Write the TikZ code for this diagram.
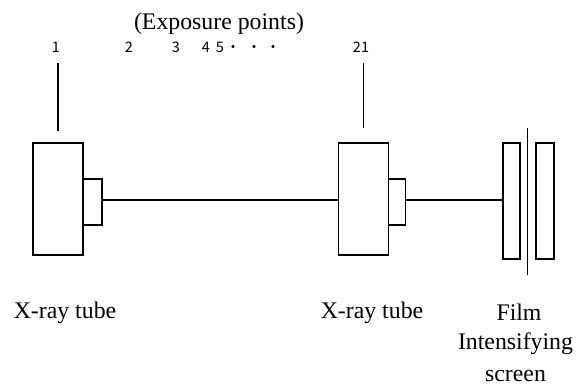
\documentclass[tikz,border=0pt]{standalone}
\usepackage{fontspec}
\setmainfont{Liberation Serif}
\newfontfamily\gothicfont{Noto Sans CJK JP}
\usepackage{tikz}
\usetikzlibrary{positioning, calc}

\begin{document}
\begin{tikzpicture}[x=1pt, y=-1pt,
    box/.style={draw, line width=1.2pt, inner sep=0pt, outer sep=0pt},
    wire/.style={line width=1.2pt},
    caption/.style={font=\fontsize{23.8}{32}\selectfont, align=center, inner sep=0pt},
    point/.style={font=\gothicfont\fontsize{14.5}{16}\selectfont, inner sep=0pt}
]
    \useasboundingbox (0,0) rectangle (588,385);

    % Exposure points
    \node[caption] (title) at (219,24) {(Exposure points)};
    \node[point] (p1) at (56,47) {1};
    \node[point] (p2) at (129,47) {2};
    \node[point] (p3) at (176,47) {3};
    \node[point] (p4) at (206,47) {4};
    \node[point] (p5) at (220,47) {5};
    \node[point] (d1) at (233,49) {・};
    \node[point] (d2) at (254,49) {・};
    \node[point] (d3) at (273,49) {・};
    \node[point] (p21) at (361,47) {21};

    % Left tube
    \node[box, minimum width=50pt, minimum height=112pt] (tubeA) at (58,199) {};
    \node[box, minimum width=19pt, minimum height=46pt, anchor=west] (winA) at (tubeA.east |- 0,202) {};
    \coordinate (tickA) at (tubeA.north |- 0,63);
    \draw[wire] (tickA) -- ($(tubeA.north)+(0,-12)$);

    % Right tube
    \node[box, minimum width=50pt, minimum height=112pt] (tubeB) at (363.5,199) {};
    \node[box, minimum width=17pt, minimum height=46pt, anchor=west] (winB) at (tubeB.east |- 0,202) {};
    \coordinate (tickB) at (tubeB.north |- 0,63);
    \draw[wire] (tickB) -- ($(tubeB.north)+(0,-15)$);

    % Film and screens
    \node[box, minimum width=17pt, minimum height=116pt] (screenA) at (511.5,201) {};
    \node[box, minimum width=18pt, minimum height=116pt] (screenB) at (545,201) {};
    \coordinate (filmTop) at (527.5,128);
    \coordinate (filmBot) at (527.5,275);
    \draw[wire] (filmTop) -- (filmBot);

    % Beam
    \draw[wire] (winA.east |- 0,200) -- (tubeB.west |- 0,200);
    \draw[wire] (winB.east |- 0,200) -- (screenA.west |- 0,200);

    % Labels
    \node[caption] (labA) at (65,313) {X-ray tube};
    \node[caption] (labB) at (372,313) {X-ray tube};
    \node[caption] (film) at (519,312.5) {Film};
    \node[caption] (screen) at (515.5,357) {Intensifying\\screen};
\end{tikzpicture}
\end{document}
